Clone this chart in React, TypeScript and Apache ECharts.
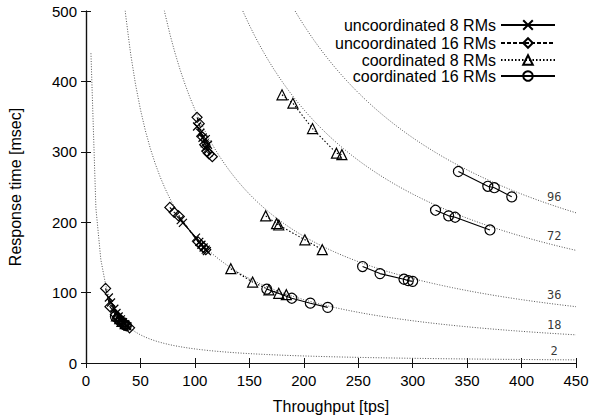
import React, { useEffect, useRef } from "react";
import * as echarts from "echarts";

// ---- data ----
const xMin = 0;
const xMax = 450;
const xInterval = 50;
const yMin = 0;
const yMax = 500;
const yInterval = 100;

const seriesNames = [
  "uncoordinated 8 RMs",
  "uncoordinated 16 RMs",
  "coordinated 8 RMs",
  "coordinated 16 RMs",
];

// iso-lines of Little's law: response time [ms] = clients * 1000 / throughput
const contourClients = [2, 18, 36, 72, 96];
const contourLabelX = 430;
const contourSamples = 100;

// uncoordinated 8 RMs (clusters at 2, 18, 36 clients)
const uncoord8N2 = [[21, 93], [23, 86], [26, 77], [28, 71], [30, 66], [32, 62], [34, 58], [36, 55], [38, 52]];
const uncoord8N18 = [[87, 203], [89, 199], [101, 178], [104, 172], [106, 168], [108, 164], [110, 161], [111, 159]];
const uncoord8N36 = [[102, 336], [105, 327], [107, 320], [109, 312], [110, 306], [111, 303], [112, 310], [110, 318]];

// uncoordinated 16 RMs
const uncoord16N2 = [[18, 106], [22, 80], [27, 69], [29, 65], [31, 61], [33, 59], [35, 56], [37, 53], [40, 50]];
const uncoord16N18 = [[77, 221], [81, 214], [85, 209], [103, 172], [106, 167], [108, 164], [110, 161]];
const uncoord16N36 = [[102, 349], [104, 340], [107, 321], [109, 310], [111, 301], [113, 297], [116, 293]];

// coordinated 8 RMs
const coord8N2 = [[28, 67], [31, 63], [33, 59], [36, 56]];
const coord8N18 = [[133, 134], [153, 115], [168, 104], [177, 99], [184, 97]];
const coord8N36 = [[165, 209], [175, 198], [177, 196], [201, 175], [217, 161]];
const coord8N72 = [[180, 381], [190, 369], [208, 333], [230, 298], [235, 296]];

// coordinated 16 RMs
const coord16N2 = [[27, 66], [30, 62], [32, 59], [35, 55], [37, 53]];
const coord16N18 = [[166, 105], [189, 92], [206, 85], [222, 79]];
const coord16N36 = [[254, 137], [270, 127], [292, 119], [296, 117], [300, 116]];
const coord16N72 = [[321, 217], [333, 209], [339, 207], [371, 189]];
const coord16N96 = [[342, 272], [369, 251], [375, 249], [391, 236]];

// ---- helpers ----
function joinClusters(clusters: number[][][]) {
  const out: (number | string)[][] = [];
  clusters.forEach((c, i) => {
    if (i > 0) out.push(["-", "-"]);
    c.forEach((p) => out.push(p));
  });
  return out;
}

function contourPoints(n: number) {
  const pts: number[][] = [];
  for (let i = 1; i < contourSamples; i++) {
    const x = (xMax * i) / (contourSamples - 1);
    pts.push([x, (1000 * n) / x]);
  }
  return pts;
}

const FONT = "'Liberation Sans', Arial, Helvetica, sans-serif";
const CROSS = "path://M0,0L10,10M10,0L0,10";

export default function App() {
  const ref = useRef<HTMLDivElement>(null);

  useEffect(() => {
    if (!ref.current) return;
    const chart = echarts.init(ref.current, undefined, { renderer: "svg" });

    const grid = { left: 86, right: 18, top: 11, bottom: 53, containLabel: false };
    const axisLine = { show: true, lineStyle: { color: "#111", width: 1.2 } };
    const axisTick = { show: true, inside: true, length: 5, lineStyle: { color: "#111", width: 1 } };

    const markerStyle = (symbol: string, size: number, lineType: any) => ({
      type: "line",
      symbol,
      symbolSize: size,
      showSymbol: true,
      connectNulls: false,
      clip: true,
      itemStyle: { color: "rgba(0,0,0,0)", borderColor: "#000", borderWidth: 1.2 },
      lineStyle: { color: "#000", width: 1.1, type: lineType },
      z: 5,
    });

    const contourSeries = contourClients.map((n) => ({
      type: "line",
      name: "N" + n,
      data: contourPoints(n),
      showSymbol: false,
      symbol: "none",
      clip: true,
      silent: true,
      lineStyle: { color: "#555", width: 1, type: [1, 1.6] },
      z: 1,
    }));

    const labelSeries = {
      type: "scatter",
      name: "contour labels",
      symbolSize: 0,
      silent: true,
      data: contourClients.map((n) => [contourLabelX, (1000 * n) / contourLabelX, n]),
      label: {
        show: true,
        position: "top",
        distance: 3,
        formatter: (p: any) => String(p.value[2]),
        fontFamily: "'DejaVu Sans Mono', monospace",
        fontSize: 12,
        color: "#000",
      },
      z: 6,
    };

    const legendRowsTop = [17, 35, 52, 68];
    const legends = seriesNames.map((name, i) => ({
      data: [name],
      right: 38,
      top: legendRowsTop[i],
      orient: "vertical",
      align: "right",
      padding: 0,
      itemWidth: 54,
      itemHeight: 12,
      selectedMode: false,
      textStyle: { fontFamily: FONT, fontSize: 16, color: "#000", lineHeight: 16 },
    }));

    chart.setOption({
      animation: false,
      backgroundColor: "#fff",
      grid,
      legend: legends,
      xAxis: [
        {
          type: "value",
          min: xMin,
          max: xMax,
          interval: xInterval,
          position: "bottom",
          axisLine,
          axisTick,
          splitLine: { show: false },
          axisLabel: { fontFamily: FONT, fontSize: 15, color: "#000", margin: 10 },
        },
        {
          type: "value",
          min: xMin,
          max: xMax,
          interval: xInterval,
          position: "top",
          axisLine,
          axisTick,
          splitLine: { show: false },
          axisLabel: { show: false },
        },
      ],
      yAxis: [
        {
          type: "value",
          min: yMin,
          max: yMax,
          interval: yInterval,
          position: "left",
          axisLine,
          axisTick,
          splitLine: { show: false },
          axisLabel: { fontFamily: FONT, fontSize: 15, color: "#000", margin: 9 },
        },
        {
          type: "value",
          min: yMin,
          max: yMax,
          interval: yInterval,
          position: "right",
          axisLine,
          axisTick,
          splitLine: { show: false },
          axisLabel: { show: false },
        },
      ],
      graphic: [
        {
          type: "text",
          x: 15,
          y: 187,
          rotation: Math.PI / 2,
          style: {
            text: "Response time [msec]",
            font: `16px ${FONT}`,
            fill: "#000",
            align: "center",
            verticalAlign: "middle",
          },
        },
        {
          type: "text",
          x: 331,
          y: 406,
          style: {
            text: "Throughput [tps]",
            font: `16px ${FONT}`,
            fill: "#000",
            align: "center",
            verticalAlign: "middle",
          },
        },
      ],
      series: [
        ...contourSeries,
        labelSeries,
        {
          ...markerStyle(CROSS, 8, "solid"),
          name: seriesNames[0],
          data: joinClusters([uncoord8N2, uncoord8N18, uncoord8N36]),
        },
        {
          ...markerStyle("diamond", 10, [4, 2]),
          name: seriesNames[1],
          data: joinClusters([uncoord16N2, uncoord16N18, uncoord16N36]),
        },
        {
          ...markerStyle("triangle", 10, [1.5, 2]),
          name: seriesNames[2],
          data: joinClusters([coord8N2, coord8N18, coord8N36, coord8N72]),
        },
        {
          ...markerStyle("circle", 10, "solid"),
          name: seriesNames[3],
          data: joinClusters([coord16N2, coord16N18, coord16N36, coord16N72, coord16N96]),
        },
      ],
    });

    return () => chart.dispose();
  }, []);

  return <div ref={ref} style={{ width: 594, height: 416, position: "absolute", left: 0, top: 0 }} />;
}
